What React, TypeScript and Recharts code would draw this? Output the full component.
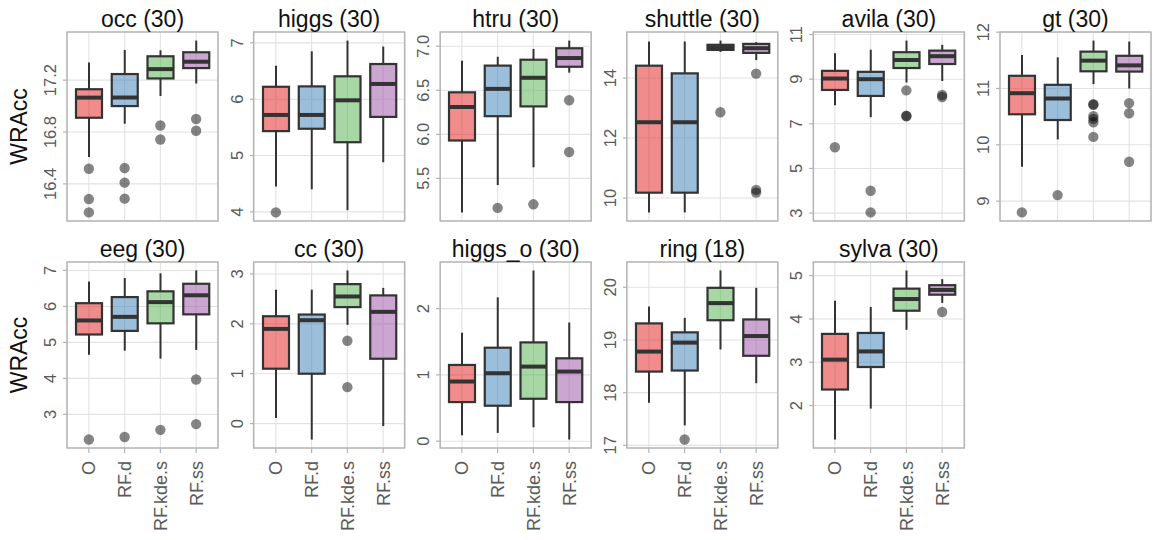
import React from 'react';
import { ComposedChart, Bar, Scatter, XAxis, YAxis, CartesianGrid } from 'recharts';

const methods = ['O', 'RF.d', 'RF.kde.s', 'RF.ss'];
const colors = ['#E41A1C', '#377EB8', '#4DAF4A', '#984EA3'];

// each row: [lower whisker, q1, median, q3, upper whisker], one row per method
const occStats = [
  [16.607, 16.91, 17.065, 17.13, 17.337],
  [16.864, 17.0, 17.066, 17.247, 17.433],
  [17.078, 17.213, 17.285, 17.384, 17.43],
  [17.174, 17.293, 17.342, 17.415, 17.505],
];
const occOut = [[16.517, 16.283, 16.18], [16.522, 16.41, 16.286], [16.85, 16.742], [16.9, 16.81]];
const occTicks = [16.4, 16.8, 17.2];

const higgsStats = [
  [4.45, 5.433, 5.72, 6.22, 6.594],
  [4.4, 5.475, 5.72, 6.227, 6.85],
  [4.03, 5.236, 5.98, 6.406, 7.04],
  [4.88, 5.685, 6.27, 6.624, 6.934],
];
const higgsOut = [[3.99], [], [], []];
const higgsTicks = [4, 5, 6, 7];

const htruStats = [
  [5.114, 5.93, 6.31, 6.477, 6.835],
  [5.424, 6.206, 6.516, 6.78, 6.88],
  [5.626, 6.317, 6.642, 6.847, 6.969],
  [6.7, 6.767, 6.866, 6.977, 7.064],
];
const htruOut = [[], [5.165], [5.206], [6.387, 5.8]];
const htruTicks = [5.5, 6.0, 6.5, 7.0];

const shuttleStats = [
  [9.52, 10.178, 12.527, 14.413, 15.22],
  [9.52, 10.178, 12.527, 14.157, 15.22],
  [14.87, 14.94, 15.02, 15.11, 15.25],
  [14.6, 14.84, 14.997, 15.14, 15.2],
];
const shuttleOut = [[], [], [12.86], [14.15, 10.27, 10.18]];
const shuttleTicks = [10, 12, 14];

const avilaStats = [
  [7.83, 8.518, 9.03, 9.374, 10.16],
  [7.3, 8.25, 9.0, 9.33, 10.32],
  [8.85, 9.5, 9.86, 10.21, 10.73],
  [8.92, 9.68, 10.03, 10.28, 10.54],
];
const avilaOut = [[5.95], [4.0, 3.03], [8.5, 7.36, 7.34], [8.29, 8.2]];
const avilaTicks = [3, 5, 7, 9, 11];

const gtStats = [
  [9.61, 10.542, 10.916, 11.225, 11.595],
  [10.096, 10.44, 10.822, 11.065, 11.553],
  [11.077, 11.305, 11.494, 11.654, 11.85],
  [11.0, 11.3, 11.41, 11.58, 11.833],
];
const gtOut = [[8.8], [9.107], [10.72, 10.71, 10.51, 10.46, 10.4, 10.14], [10.74, 10.56, 9.7]];
const gtTicks = [9, 10, 11, 12];

const eegStats = [
  [4.66, 5.22, 5.61, 6.09, 6.695],
  [4.77, 5.32, 5.71, 6.26, 6.79],
  [4.55, 5.53, 6.12, 6.42, 6.92],
  [4.79, 5.78, 6.31, 6.63, 7.0],
];
const eegOut = [[2.3], [2.37], [2.57], [3.97, 2.73]];
const eegTicks = [3, 4, 5, 6, 7];

const ccStats = [
  [0.114, 1.1, 1.898, 2.152, 2.685],
  [-0.32, 1.0, 2.072, 2.186, 2.685],
  [1.98, 2.335, 2.548, 2.796, 3.07],
  [-0.05, 1.3, 2.24, 2.57, 2.72],
];
const ccOut = [[], [], [1.66, 0.73], []];
const ccTicks = [0, 1, 2, 3];

const higgsOStats = [
  [0.09, 0.59, 0.9, 1.15, 1.634],
  [0.125, 0.535, 1.025, 1.41, 2.17],
  [0.21, 0.64, 1.125, 1.49, 2.575],
  [0.025, 0.59, 1.05, 1.25, 1.79],
];
const higgsOOut = [[], [], [], []];
const higgsOTicks = [0, 1, 2];

const ringStats = [
  [17.81, 18.4, 18.78, 19.315, 19.636],
  [17.38, 18.42, 18.95, 19.145, 19.42],
  [18.82, 19.375, 19.7, 19.99, 20.32],
  [18.18, 18.7, 19.075, 19.39, 19.99],
];
const ringOut = [[], [17.11], [], []];
const ringTicks = [17, 18, 19, 20];

const sylvaStats = [
  [1.215, 2.37, 3.06, 3.655, 4.423],
  [1.93, 2.89, 3.25, 3.677, 4.277],
  [3.75, 4.19, 4.46, 4.7, 5.12],
  [4.37, 4.56, 4.67, 4.78, 4.92],
];
const sylvaOut = [[], [], [], [4.16]];
const sylvaTicks = [2, 3, 4, 5];

const panels = [
  { title: 'occ (30)', stats: occStats, out: occOut, ticks: occTicks, digits: 1 },
  { title: 'higgs (30)', stats: higgsStats, out: higgsOut, ticks: higgsTicks, digits: 0 },
  { title: 'htru (30)', stats: htruStats, out: htruOut, ticks: htruTicks, digits: 1 },
  { title: 'shuttle (30)', stats: shuttleStats, out: shuttleOut, ticks: shuttleTicks, digits: 0 },
  { title: 'avila (30)', stats: avilaStats, out: avilaOut, ticks: avilaTicks, digits: 0 },
  { title: 'gt (30)', stats: gtStats, out: gtOut, ticks: gtTicks, digits: 0 },
  { title: 'eeg (30)', stats: eegStats, out: eegOut, ticks: eegTicks, digits: 0 },
  { title: 'cc (30)', stats: ccStats, out: ccOut, ticks: ccTicks, digits: 0 },
  { title: 'higgs_o (30)', stats: higgsOStats, out: higgsOOut, ticks: higgsOTicks, digits: 0 },
  { title: 'ring (18)', stats: ringStats, out: ringOut, ticks: ringTicks, digits: 0 },
  { title: 'sylva (30)', stats: sylvaStats, out: sylvaOut, ticks: sylvaTicks, digits: 0 },
];

const FONT = '"Liberation Sans", Arial, Helvetica, sans-serif';
const PANEL_W = 151;
const COL_X = [67, 253.6, 440.2, 626.8, 813.4, 1000];
const ROW_Y = [32, 262];
const ROW_H = [189, 186];
const Y_AXIS_W = 40;
const X_AXIS_H = 92;
const PAD_TOP = 14;
const PAD_BOTTOM = 12;
const PAD_RIGHT = 2;
const BORDER = '#b3b3b3';
const INK = '#333333';

// ggplot-like limits: data range expanded by 5% each side
const limits = (stats: number[][], out: number[][]) => {
  const all = [...stats.flat(), ...out.flat()];
  const lo = Math.min(...all);
  const hi = Math.max(...all);
  const pad = (hi - lo) * 0.05;
  return [lo - pad, hi + pad];
};

const BoxShape = (props: any) => {
  const { x, y, width, height, payload } = props;
  if (!payload || !payload.stats || !Number.isFinite(x) || !Number.isFinite(y) || !Number.isFinite(height)) {
    return <g />;
  }
  const [lo, q1, med, q3, hi] = payload.stats;
  const top = Math.min(y, y + height);
  const bottom = Math.max(y, y + height);
  const toY = (v: number) => bottom - ((v - lo) / (hi - lo)) * (bottom - top);
  const cx = x + width / 2;
  return (
    <g>
      <line x1={cx} x2={cx} y1={toY(hi)} y2={toY(q3)} stroke={INK} strokeWidth={2} />
      <line x1={cx} x2={cx} y1={toY(q1)} y2={toY(lo)} stroke={INK} strokeWidth={2} />
      <rect
        x={x}
        y={toY(q3)}
        width={width}
        height={toY(q1) - toY(q3)}
        fill={payload.color}
        fillOpacity={0.5}
        stroke={INK}
        strokeWidth={2.2}
      />
      <line x1={x} x2={x + width} y1={toY(med)} y2={toY(med)} stroke={INK} strokeWidth={4} />
    </g>
  );
};

const Outlier = (props: any) =>
  !Number.isFinite(props.cx) || !Number.isFinite(props.cy) || props.payload?.v == null ? (
    <g />
  ) : (
    <circle cx={props.cx} cy={props.cy} r={5.2} fill="#000" fillOpacity={0.48} />
  );

const YTick = (props: any) => {
  const { x, y, payload, digits } = props;
  const tx = x - 4;
  return (
    <text
      x={tx}
      y={y}
      transform={`rotate(-90, ${tx}, ${y})`}
      textAnchor="middle"
      fill="#5a5a5a"
      fontSize={16.5}
      fontFamily={FONT}
    >
      {Number(payload.value).toFixed(digits)}
    </text>
  );
};

const XTick = (props: any) => {
  const { x, y, payload } = props;
  return (
    <text
      x={x}
      y={y}
      dy="0.36em"
      transform={`rotate(-90, ${x}, ${y})`}
      textAnchor="end"
      fill="#5a5a5a"
      fontSize={18}
      fontFamily={FONT}
    >
      {payload.value}
    </text>
  );
};

const Panel = ({ p, row, col }: { p: (typeof panels)[number]; row: number; col: number }) => {
  // box rows first (they fix the category order), outlier rows after them
  const boxes = methods.map((m, i) => ({
    cat: m,
    stats: p.stats[i],
    range: [p.stats[i][0], p.stats[i][4]],
    color: colors[i],
  }));
  const points = methods.flatMap((m, i) => p.out[i].map((v) => ({ cat: m, v })));
  const rows = [...boxes, ...points];
  const bottomAxis = row === 1;
  return (
    <div style={{ position: 'absolute', left: COL_X[col] - Y_AXIS_W, top: ROW_Y[row] - PAD_TOP }}>
      <ComposedChart
        width={Y_AXIS_W + PANEL_W + PAD_RIGHT}
        height={PAD_TOP + ROW_H[row] + (bottomAxis ? X_AXIS_H : PAD_BOTTOM)}
        data={rows}
        margin={{ top: PAD_TOP, right: PAD_RIGHT, bottom: bottomAxis ? 0 : PAD_BOTTOM, left: 0 }}
      >
        <CartesianGrid stroke="#e2e2e2" strokeWidth={1.1} />
        <XAxis
          dataKey="cat"
          type="category"
          allowDuplicatedCategory={false}
          padding={{ left: 4, right: 4 }}
          hide={!bottomAxis}
          height={X_AXIS_H}
          axisLine={false}
          tickLine={{ stroke: BORDER, strokeWidth: 1.2 }}
          tickSize={5}
          tickMargin={8}
          interval={0}
          tick={<XTick />}
        />
        <YAxis
          type="number"
          domain={limits(p.stats, p.out)}
          ticks={p.ticks}
          interval={0}
          width={Y_AXIS_W}
          axisLine={false}
          tickLine={{ stroke: BORDER, strokeWidth: 1.2 }}
          tickSize={4}
          tickMargin={3}
          tick={<YTick digits={p.digits} />}
        />
        <Bar dataKey="range" barSize={26} shape={<BoxShape />} isAnimationActive={false} />
        <Scatter dataKey="v" shape={<Outlier />} isAnimationActive={false} />
      </ComposedChart>
    </div>
  );
};

export default function App() {
  return (
    <div style={{ position: 'relative', width: 1153, height: 540, background: '#fff', fontFamily: FONT }}>
      <style>{'body{margin:0}'}</style>
      {panels.map((p, k) => (
        <Panel key={p.title} p={p} row={Math.floor(k / 6)} col={k % 6} />
      ))}
      <svg
        width={1153}
        height={540}
        style={{ position: 'absolute', left: 0, top: 0, pointerEvents: 'none' }}
      >
        {panels.map((p, k) => {
          const row = Math.floor(k / 6);
          const col = k % 6;
          return (
            <g key={p.title}>
              <rect
                x={COL_X[col]}
                y={ROW_Y[row]}
                width={PANEL_W}
                height={ROW_H[row]}
                fill="none"
                stroke={BORDER}
                strokeWidth={1.4}
              />
              <text
                x={COL_X[col] + PANEL_W / 2}
                y={ROW_Y[row] - 5}
                textAnchor="middle"
                fontSize={23}
                fontFamily={FONT}
                fill="#111"
              >
                {p.title}
              </text>
            </g>
          );
        })}
        {ROW_Y.map((top, r) => {
          const cy = top + ROW_H[r] / 2;
          return (
            <text
              key={r}
              x={27}
              y={cy}
              transform={`rotate(-90, 27, ${cy})`}
              textAnchor="middle"
              fontSize={23}
              fontFamily={FONT}
              fill="#111"
            >
              WRAcc
            </text>
          );
        })}
      </svg>
    </div>
  );
}
